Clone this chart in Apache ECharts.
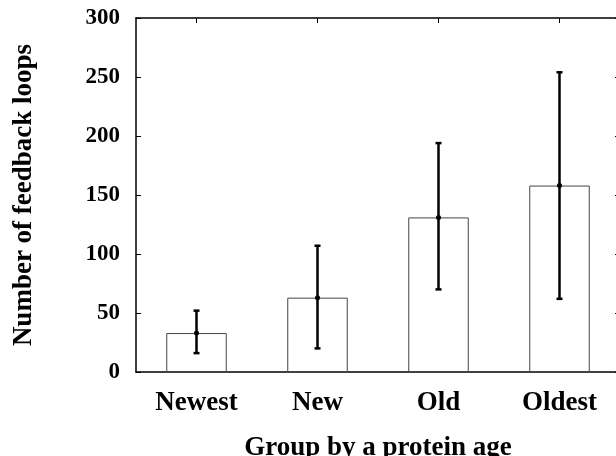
<!DOCTYPE html>
<html>
<head>
<meta charset="utf-8">
<script src="https://cdn.jsdelivr.net/npm/echarts@6/dist/echarts.min.js"></script>
<style>
html,body{margin:0;padding:0;overflow:hidden;background:#fff;}
#chart{width:624px;height:456px;}
</style>
</head>
<body>
<div id="chart"></div>
<script>
const categories = ['Newest', 'New', 'Old', 'Oldest'];
const means = [33, 63, 131, 158];
const errLow = [16, 20, 70, 62];
const errHigh = [52, 107, 194, 254];
const yTicks = [0, 50, 100, 150, 200, 250, 300];

const font = '"Liberation Serif", "Times New Roman", serif';
const chart = echarts.init(document.getElementById('chart'), null, {renderer: 'canvas'});

const errData = categories.map((c, i) => [i, means[i], errLow[i], errHigh[i]]);

chart.setOption({
  animation: false,
  backgroundColor: '#fff',
  grid: {left: 136, right: 4, top: 18, bottom: 84, outerBoundsMode: 'none', containLabel: false},
  xAxis: [{
    type: 'category',
    data: categories,
    position: 'bottom',
    axisLine: {onZero: false, lineStyle: {color: '#000', width: 1.5}},
    axisTick: {inside: true, alignWithLabel: true, length: 5, lineStyle: {color: '#000', width: 1}},
    axisLabel: {color: '#000', fontFamily: font, fontWeight: 'bold', fontSize: 27, margin: 18},
    name: 'Group by a protein age',
    nameLocation: 'middle',
    nameGap: 63,
    nameTextStyle: {color: '#000', fontFamily: font, fontWeight: 'bold', fontSize: 27}
  }, {
    type: 'category',
    data: categories,
    position: 'top',
    axisLine: {show: true, onZero: false, lineStyle: {color: '#000', width: 1.5}},
    axisTick: {show: true, inside: true, alignWithLabel: true, length: 5, lineStyle: {color: '#000', width: 1}},
    axisLabel: {show: false}
  }],
  yAxis: [{
    type: 'value',
    min: 0, max: 300, interval: 50,
    position: 'left',
    splitLine: {show: false},
    axisLine: {show: true, onZero: false, lineStyle: {color: '#000', width: 1.5}},
    axisTick: {show: true, inside: true, length: 5, lineStyle: {color: '#000', width: 1}},
    axisLabel: {color: '#000', fontFamily: font, fontWeight: 'bold', fontSize: 23, margin: 16,
      formatter: v => yTicks.includes(v) ? String(v) : ''},
    name: 'Number of feedback loops',
    nameLocation: 'middle',
    nameGap: 98,
    nameRotate: 90,
    nameTextStyle: {color: '#000', fontFamily: font, fontWeight: 'bold', fontSize: 27}
  }, {
    type: 'value',
    min: 0, max: 300, interval: 50,
    position: 'right',
    splitLine: {show: false},
    axisLine: {show: true, onZero: false, lineStyle: {color: '#000', width: 1.5}},
    axisTick: {show: true, inside: true, length: 5, lineStyle: {color: '#000', width: 1}},
    axisLabel: {show: false}
  }],
  series: [{
    type: 'bar',
    data: means,
    barWidth: '50%',
    itemStyle: {color: '#fff', borderColor: '#444', borderWidth: 1}
  }, {
    type: 'custom',
    data: errData,
    encode: {x: 0, y: [1, 2, 3]},
    z: 10,
    renderItem: function (params, api) {
      const x = api.value(0);
      const pm = api.coord([x, api.value(1)]);
      const pl = api.coord([x, api.value(2)]);
      const ph = api.coord([x, api.value(3)]);
      const cap = 3;
      const st = {stroke: '#000', lineWidth: 2.5};
      return {
        type: 'group',
        children: [
          {type: 'line', shape: {x1: pm[0], y1: pl[1], x2: pm[0], y2: ph[1]}, style: st},
          {type: 'line', shape: {x1: pm[0] - cap, y1: pl[1], x2: pm[0] + cap, y2: pl[1]}, style: st},
          {type: 'line', shape: {x1: pm[0] - cap, y1: ph[1], x2: pm[0] + cap, y2: ph[1]}, style: st},
          {type: 'circle', shape: {cx: pm[0], cy: pm[1], r: 2.5}, style: {fill: '#000'}}
        ]
      };
    }
  }]
});
</script>
</body>
</html>
